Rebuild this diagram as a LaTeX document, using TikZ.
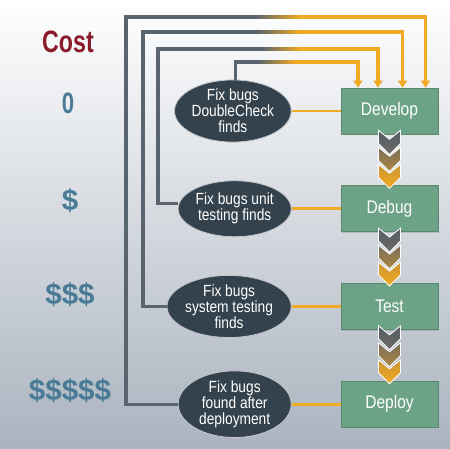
\documentclass[tikz,border=0pt]{standalone}
\usepackage{fontspec}
\setmainfont{Liberation Sans}[FakeStretch=0.85]
\newfontfamily\widesans{Liberation Sans}
\newfontfamily\condsans{Liberation Sans}[FakeStretch=0.75]
\usetikzlibrary{positioning,shapes.geometric,arrows.meta,calc,shadows}

\definecolor{costred}{RGB}{138,28,43}
\definecolor{dollarblue}{RGB}{74,123,150}
\definecolor{stagegreen}{RGB}{108,162,134}
\definecolor{stageedge}{RGB}{88,136,110}
\definecolor{notefill}{RGB}{52,66,77}
\definecolor{lineorange}{RGB}{240,170,35}
\definecolor{linegray}{RGB}{90,100,110}
\definecolor{bgmid}{RGB}{214,218,223}
\definecolor{bgbottom}{RGB}{170,179,191}
\definecolor{chevA}{RGB}{85,93,102}
\definecolor{chevB}{RGB}{108,106,98}
\definecolor{chevC}{RGB}{122,110,88}
\definecolor{chevD}{RGB}{172,136,68}
\definecolor{chevE}{RGB}{204,150,52}
\definecolor{chevF}{RGB}{240,170,35}

\begin{document}
\begin{tikzpicture}[x=0.025cm, y=0.025cm,
                    node distance=1.275cm and 1.225cm,
                    stage/.style={rectangle, fill=stagegreen, draw=stageedge, line width=0.5pt,
                                  minimum width=2.425cm, minimum height=1.15cm, text=white,
                                  font=\fontsize{13}{14}\selectfont,
                                  drop shadow={opacity=0.35, shadow xshift=0.7pt, shadow yshift=-0.9pt}},
                    fixnote/.style={ellipse, fill=notefill, draw=white!70!notefill, line width=0.6pt,
                                    minimum width=2.825cm, inner sep=0pt, text=white, align=center,
                                    font=\fontsize{11.5}{11.4}\selectfont},
                    costmark/.style={text=dollarblue, font=\widesans\bfseries\fontsize{21}{21}\selectfont},
                    feedback/.style={line width=2.2pt, line join=miter},
                    handoff/.style={draw=lineorange, line width=2pt}]
  % background
  \shade[top color=white, middle color=bgmid, bottom color=bgbottom] (0,0) rectangle (450,-449);

  % cost column
  \node[text=costred, font=\condsans\bfseries\fontsize{22}{22}\selectfont] (cost) at (68,-42) {Cost};
  \node[text=dollarblue, font=\condsans\bfseries\fontsize{21}{21}\selectfont] (zero) at (68,-103) {0};
  \node[costmark] (one) at (70,-201) {\$};
  \node[costmark] (three) at (70,-295) {\$\$\$};
  \node[costmark] (five) at (70,-391) {\$\$\$\$\$};

  % stages
  \node[stage] (dev) at (389.5,-111) {Develop};
  \node[stage] (dbg) [below=of dev] {Debug};
  \node[stage] (tst) [below=of dbg] {Test};
  \node[stage] (dep) [below=of tst] {Deploy};

  % bug fixing
  \node[fixnote, minimum height=1.5cm] (fbDev) [left=of dev] {Fix bugs\\DoubleCheck\\finds};
  \node[fixnote, minimum height=1.4cm] (fbDbg) [left=of dbg] {Fix bugs unit\\testing finds};
  \node[fixnote, minimum height=1.55cm] (fbTst) [left=of tst] {Fix bugs\\system testing\\finds};
  \node[fixnote, minimum height=1.45cm] (fbDep) [left=of dep] {Fix bugs\\found after\\deployment};

  \draw[handoff] (fbDev.east) -- (dev.west);
  \draw[handoff] (fbDbg.east) -- (dbg.west);
  \draw[handoff] (fbTst.east) -- (tst.west);
  \draw[handoff] (fbDep.east) -- (dep.west);

  % feedback loops back to Develop
  \draw[feedback, lineorange, -{Triangle[length=5pt, width=6.5pt]}]
    (fbDep.west) -| (126,-17) -| ($(dev.north)+(36,0)$);
  \draw[feedback, linegray] (fbDep.west) -| (126,-17) -- (255,-17);
  \shade[left color=linegray, right color=lineorange] (255,-18.5) rectangle (300,-15.5);

  \draw[feedback, lineorange, -{Triangle[length=5pt, width=6.5pt]}]
    (fbTst.west) -| (143,-32) -| ($(dev.north)+(13,0)$);
  \draw[feedback, linegray] (fbTst.west) -| (143,-32) -- (258,-32);
  \shade[left color=linegray, right color=lineorange] (258,-33.5) rectangle (300,-30.5);

  \draw[feedback, lineorange, -{Triangle[length=5pt, width=6.5pt]}]
    ([yshift=4]fbDbg.west) -| (158,-49) -| ($(dev.north)+(-11.5,0)$);
  \draw[feedback, linegray] ([yshift=4]fbDbg.west) -| (158,-49) -- (262,-49);
  \shade[left color=linegray, right color=lineorange] (262,-50.5) rectangle (300,-47.5);

  \draw[feedback, lineorange, -{Triangle[length=5pt, width=6.5pt]}]
    ([xshift=2]fbDev.north) |- (300,-62) -| ($(dev.north)+(-31.5,0)$);
  \draw[feedback, linegray] ([xshift=2]fbDev.north) |- (258,-62);
  \shade[left color=linegray, right color=lineorange] (258,-63.5) rectangle (295,-60.5);

  % chevrons between stages
  \foreach \b in {dev,dbg,tst}{
    \begin{scope}[shift={(\b.south)}]
      \foreach \i/\ct/\cb in {0/chevA/chevB, 1/chevC/chevD, 2/chevE/chevF}{
        \pgfmathsetmacro\yo{4-17*\i}
        \shadedraw[draw=white, line width=0.6pt, top color=\ct, bottom color=\cb]
          (-11,\yo) -- (0,{\yo-9}) -- (11,\yo) -- (11,{\yo-13}) -- (0,{\yo-24}) -- (-11,{\yo-13}) -- cycle;
      }
    \end{scope}
  }
\end{tikzpicture}
\end{document}
